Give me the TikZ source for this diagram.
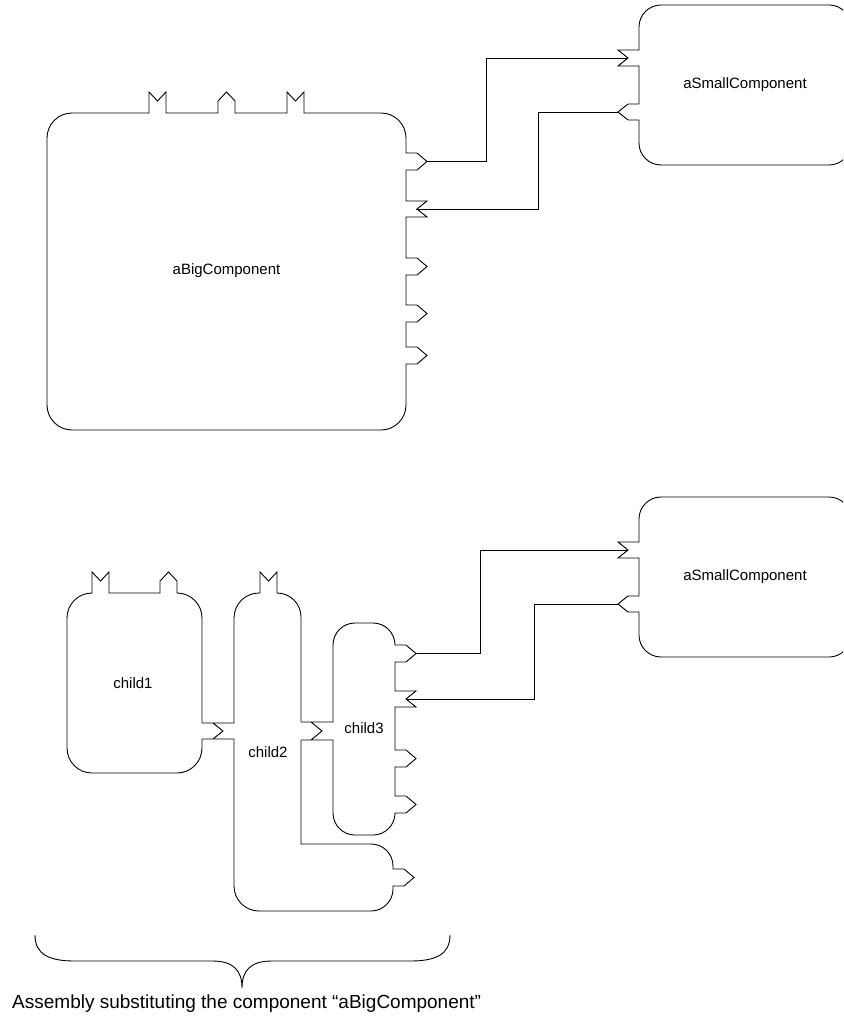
\documentclass[tikz,border=0pt]{standalone}
\usepackage{fontspec}
\setmainfont{Liberation Sans}
\newcommand\prtPR[2]{-- (#1,#2) -- ++(11,0) -- ++(10,8.5) -- ++(-10,8.5) -- ++(-11,0)}
\newcommand\prtNR[2]{-- (#1,#2) -- ++(21,0) -- ++(-10,8) -- ++(10,8) -- ++(-21,0)}
\newcommand\prtMT[2]{-- (#1,#2) -- ++(0,-21) -- ++(8.5,9) -- ++(8.5,-9) -- ++(0,21)}
\newcommand\prtHT[2]{-- (#1,#2) -- ++(0,-12) -- ++(8.5,-9) -- ++(8.5,9) -- ++(0,12)}
\newcommand\prtNL[2]{-- (#1,#2) -- ++(-21,0) -- ++(10,8) -- ++(-10,8) -- ++(21,0)}
\newcommand\prtPL[2]{-- (#1,#2) -- ++(-11,0) -- ++(-10,8) -- ++(10,8) -- ++(11,0)}
\tikzset{
  outline/.style={draw=black, line width=0.9pt, line join=miter},
  wire/.style={draw=black, line width=0.8pt},
  lbl/.style={inner sep=0pt, font=\fontsize{15}{18}\selectfont},
  caption/.style={inner sep=0pt, anchor=base west, font=\fontsize{19}{23}\selectfont}
}
\begin{document}
\begin{tikzpicture}[x=1pt,y=-1pt]
\useasboundingbox (0,0) rectangle (843,1016);
\clip (0,0) rectangle (843,1016);
\fill[white] (0,0) rectangle (843,1016);

% ---------- aBigComponent ----------
\path[outline] (47,405) -- (47,138) arc[start angle=180,end angle=270,radius=25]
  \prtMT{149}{113} \prtHT{218}{113} \prtMT{287}{113}
  -- (381,113) arc[start angle=270,end angle=360,radius=25]
  \prtPR{406}{153} \prtNR{406}{201} \prtPR{406}{258} \prtPR{406}{305} \prtPR{406}{347}
  -- (406,405) arc[start angle=0,end angle=90,radius=25]
  -- (72,430) arc[start angle=90,end angle=180,radius=25] -- cycle;
\node[lbl] (big) at (226.5,271) {aBigComponent};
\coordinate (bigP1) at (427,161.5);
\coordinate (bigN1) at (416,209);

% ---------- aSmallComponent (top) ----------
\path[outline] (661,5) arc[start angle=270,end angle=180,radius=22]
  \prtNL{639}{50} \prtPL{639}{104}
  -- (639,143) arc[start angle=180,end angle=90,radius=22]
  -- (829,165) arc[start angle=90,end angle=0,radius=22]
  -- (851,27) arc[start angle=0,end angle=-90,radius=22] -- cycle;
\node[lbl] (small1) at (745,85) {aSmallComponent};
\coordinate (smlN) at (628,58);
\coordinate (smlP) at (618,112);

\draw[wire] (bigP1) -- ++(59,0) |- (smlN);
\draw[wire] (bigN1) -- ++(122,0) |- (smlP);

% ---------- aSmallComponent (bottom) ----------
\begin{scope}[shift={(0,492)}]
\path[outline] (661,5) arc[start angle=270,end angle=180,radius=22]
  \prtNL{639}{50} \prtPL{639}{104}
  -- (639,143) arc[start angle=180,end angle=90,radius=22]
  -- (829,165) arc[start angle=90,end angle=0,radius=22]
  -- (851,27) arc[start angle=0,end angle=-90,radius=22] -- cycle;
\node[lbl] (small2) at (745,85) {aSmallComponent};
\coordinate (sml2N) at (628,58);
\coordinate (sml2P) at (618,112);
\end{scope}

% ---------- child1 ----------
\path[outline] (202,739) -- (202,748) arc[start angle=0,end angle=90,radius=25]
  -- (92,773) arc[start angle=90,end angle=180,radius=25]
  -- (67,618) arc[start angle=180,end angle=270,radius=25]
  \prtMT{92}{593} \prtHT{160}{593}
  -- (177,593) arc[start angle=270,end angle=360,radius=25] -- (202,723);
\node[lbl] (child1) at (133,683) {child1};

% ---------- child2 ----------
\path[outline] (234,723) -- (234,618) arc[start angle=180,end angle=270,radius=25]
  \prtMT{260}{593}
  -- (277,593) arc[start angle=270,end angle=360,radius=24] -- (301,722);
\path[outline] (301,740) -- (301,844) -- (371,844) arc[start angle=270,end angle=360,radius=22]
  \prtPR{393}{869}
  -- (393,889) arc[start angle=0,end angle=90,radius=22]
  -- (259,911) arc[start angle=90,end angle=180,radius=25] -- (234,739);
\node[lbl] (child2) at (268,752) {child2};

% ---------- child3 ----------
\path[outline] (333,722) -- (333,645) arc[start angle=180,end angle=270,radius=22]
  -- (373,623) arc[start angle=270,end angle=360,radius=22]
  \prtPR{395}{645} \prtNR{395}{691} \prtPR{395}{750} \prtPR{395}{796}
  -- (395,813) arc[start angle=0,end angle=90,radius=22]
  -- (355,835) arc[start angle=90,end angle=180,radius=22] -- (333,740);
\node[lbl] (child3) at (364,728) {child3};
\coordinate (c3P1) at (416,653.5);
\coordinate (c3N1) at (406,699);

% assembly connectors between children
\path[outline] (202,723) -- (234,723) (202,739) -- (234,739) (213,723) -- (223,731) -- (213,739);
\path[outline] (301,722) -- (333,722) (301,740) -- (333,740) (311,722) -- (322,731) -- (311,740);

\draw[wire] (c3P1) -- ++(64,0) |- (sml2N);
\draw[wire] (c3N1) -- ++(128,0) |- (sml2P);

% ---------- brace and caption ----------
\path[outline] (35,935) .. controls (35,955) and (50,961) .. (75,961) -- (212,961)
  .. controls (233,961) and (242,970) .. (242,988)
  .. controls (242,970) and (251,961) .. (272,961) -- (410,961)
  .. controls (435,961) and (450,955) .. (450,935);
\node[caption] (cap) at (12,1008) {Assembly substituting the component “aBigComponent”};
\end{tikzpicture}
\end{document}
